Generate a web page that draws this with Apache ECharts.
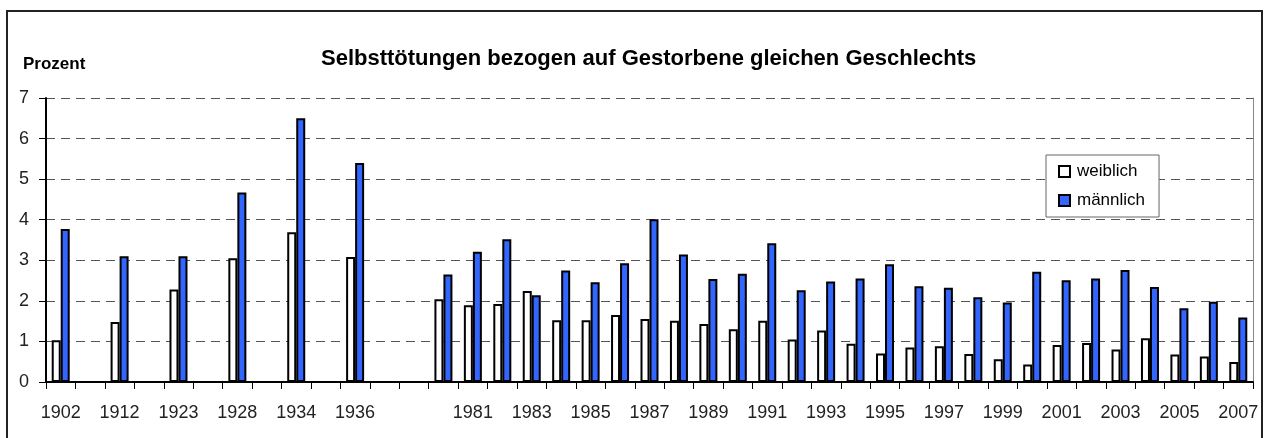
<!DOCTYPE html>
<html>
<head>
<meta charset="utf-8">
<script src="https://cdn.jsdelivr.net/npm/echarts@6/dist/echarts.min.js"></script>
<style>
  html, body { margin: 0; padding: 0; background: #fff; }
  #chart { width: 1265px; height: 438px; }
</style>
</head>
<body>
<div id="chart"></div>
<script>
// Kategorien (leere Einträge = Lücken zwischen den Jahren)
var years = ['1902', '', '1912', '', '1923', '', '1928', '', '1934', '', '1936', '', '',
  '1980', '1981', '1982', '1983', '1984', '1985', '1986', '1987', '1988', '1989', '1990',
  '1991', '1992', '1993', '1994', '1995', '1996', '1997', '1998', '1999', '2000', '2001',
  '2002', '2003', '2004', '2005', '2006', '2007'];

var weiblich = [1.03, null, 1.48, null, 2.28, null, 3.05, null, 3.69, null, 3.08, null, null,
  2.04, 1.89, 1.92, 2.24, 1.52, 1.52, 1.65, 1.55, 1.51, 1.43, 1.30,
  1.51, 1.05, 1.27, 0.94, 0.70, 0.85, 0.88, 0.69, 0.56, 0.43, 0.91,
  0.96, 0.80, 1.08, 0.68, 0.63, 0.49];

var maennlich = [3.77, null, 3.10, null, 3.10, null, 4.67, null, 6.50, null, 5.40, null, null,
  2.65, 3.21, 3.52, 2.14, 2.75, 2.46, 2.93, 4.01, 3.14, 2.54, 2.67,
  3.42, 2.26, 2.48, 2.55, 2.90, 2.36, 2.32, 2.09, 1.96, 2.72, 2.51,
  2.55, 2.76, 2.34, 1.82, 1.98, 1.59];

var yTicks = [0, 1, 2, 3, 4, 5, 6, 7];

var font = "'Liberation Sans', Arial, sans-serif";

var chart = echarts.init(document.getElementById('chart'));

var option = {
  backgroundColor: '#fff',
  animation: false,
  textStyle: { fontFamily: font },
  title: {
    text: 'Selbsttötungen bezogen auf Gestorbene gleichen Geschlechts',
    left: 316,
    top: 43,
    textStyle: { fontFamily: font, fontSize: 22, fontWeight: 'bold', color: '#000' }
  },
  graphic: [
    {
      type: 'rect',
      shape: { x: 7, y: 11, width: 1255, height: 440 },
      style: { fill: 'none', stroke: '#222', lineWidth: 2 },
      silent: true
    },
    {
      type: 'text',
      left: 23,
      top: 56,
      style: { text: 'Prozent', font: 'bold 17px ' + font, fill: '#000' }
    }
  ],
  legend: {
    orient: 'vertical',
    left: 1046,
    top: 155,
    padding: [8, 14, 8, 12],
    icon: 'rect',
    itemWidth: 11,
    itemHeight: 11,
    itemGap: 12,
    backgroundColor: '#fff',
    borderColor: '#666',
    borderWidth: 1,
    textStyle: { fontFamily: font, fontSize: 17, color: '#000', padding: [0, 0, 0, 2] },
    data: ['weiblich', 'männlich']
  },
  grid: { left: 46, right: 12, top: 98, bottom: 56 },
  xAxis: {
    type: 'category',
    data: years,
    axisLine: { lineStyle: { color: '#000', width: 2 } },
    axisTick: { show: true, length: 7, interval: 0, lineStyle: { color: '#000', width: 1 } },
    axisLabel: { interval: 1, margin: 22, fontFamily: font, fontSize: 18, color: '#222' },
    splitLine: { show: false }
  },
  yAxis: [
    {
      type: 'value',
      min: yTicks[0],
      max: yTicks[yTicks.length - 1],
      interval: 1,
      axisLine: { show: true, lineStyle: { color: '#000', width: 2 } },
      axisTick: { show: true, length: 7, lineStyle: { color: '#000' } },
      axisLabel: { margin: 17, fontFamily: font, fontSize: 18, color: '#222' },
      splitLine: { lineStyle: { color: '#555', width: 1, type: [9, 6] } }
    },
    {
      type: 'value',
      position: 'right',
      min: 0,
      max: 7,
      interval: 1,
      axisLine: { show: true, lineStyle: { color: '#888', width: 1 } },
      axisTick: { show: false },
      axisLabel: { show: false },
      splitLine: { show: false }
    }
  ],
  series: [
    {
      name: 'weiblich',
      type: 'bar',
      data: weiblich,
      barWidth: 9,
      barGap: '0%',
      itemStyle: { color: '#fff', borderColor: '#000', borderWidth: 2 }
    },
    {
      name: 'männlich',
      type: 'bar',
      data: maennlich,
      barWidth: 9,
      barGap: '0%',
      itemStyle: { color: '#3366ff', borderColor: '#000', borderWidth: 2 }
    }
  ]
};

chart.setOption(option);
</script>
</body>
</html>
